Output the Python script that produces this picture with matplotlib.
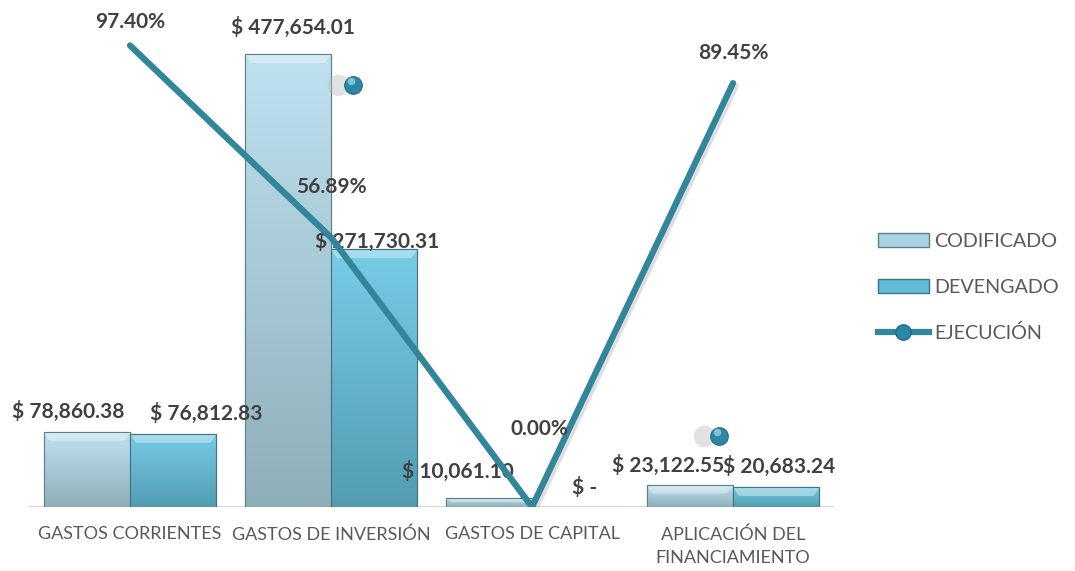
import matplotlib
matplotlib.use("Agg")
import matplotlib.pyplot as plt
import matplotlib.patheffects as pe
from matplotlib.patches import Patch
from matplotlib.lines import Line2D
from matplotlib.colors import LinearSegmentedColormap
import numpy as np

categorias = ["GASTOS CORRIENTES", "GASTOS DE INVERSIÓN", "GASTOS DE CAPITAL",
              "APLICACIÓN DEL\nFINANCIAMIENTO"]
codificado = [78860.38, 477654.01, 10061.10, 23122.55]
devengado = [76812.83, 271730.31, 0.0, 20683.24]
ejecucion = [0.9740, 0.5689, 0.0, 0.8945]
# stray marker dots in the original picture (category units, fraction)
punto_x = [1.11, 2.93]
punto_y = [0.89, 0.15]

cod_labels = ["$ 78,860.38", "$ 477,654.01", "$ 10,061.10", "$ 23,122.55"]
dev_labels = ["$ 76,812.83", "$ 271,730.31", "$ -", "$ 20,683.24"]
eje_labels = ["97.40%", "56.89%", "0.00%", "89.45%"]

# label offsets in points (dx, dy)
cod_off = [(-13, 15), (4, 19), (-22, 19), (-16, 14)]
dev_off = [(24, 15), (2, 6), (7, 14), (2, 15)]
eje_off = [(0, 17), (0, 36), (5, 56), (0, 22)]

plt.rcParams["font.family"] = ["Lato", "DejaVu Sans"]

fig = plt.figure(figsize=(10.75, 5.71), dpi=100)
ax = fig.add_axes([0.0274, 0.112, 0.748, 0.830])
ax2 = ax.twinx()

x = np.arange(len(categorias))
w = 0.43
b1 = ax.bar(x - w / 2, codificado, w, color="#a9d2e3", edgecolor="#5f7f8a", linewidth=0.8, zorder=2)
b2 = ax.bar(x + w / 2, devengado, w, color="#62bcd8", edgecolor="#3f7385", linewidth=0.8, zorder=2)

cmap1 = LinearSegmentedColormap.from_list("c1", ["#8eaeb9", "#bfe2f0"])
cmap2 = LinearSegmentedColormap.from_list("c2", ["#519cb2", "#78cce6"])
grad = np.linspace(0, 1, 256).reshape(-1, 1)
for bars, cm in [(b1, cmap1), (b2, cmap2)]:
    for r in bars:
        if r.get_height() <= 0:
            continue
        x0, y0 = r.get_x(), r.get_y()
        x1, y1 = x0 + r.get_width(), y0 + r.get_height()
        im = ax.imshow(grad, cmap=cm, aspect="auto", extent=[x0, x1, y0, y1],
                       origin="lower", zorder=2.1)
        im.set_clip_path(r)
        # bevel highlight on top
        hh = min(r.get_height() * 0.5, 9000)
        ax.fill([x0, x1, x1 - 0.03, x0 + 0.03], [y1, y1, y1 - hh, y1 - hh],
                color="white", alpha=0.35, lw=0, zorder=2.2)
        ax.add_patch(plt.Rectangle((x0, y0), r.get_width(), r.get_height(), fill=False,
                                   edgecolor=r.get_edgecolor(), lw=0.8, zorder=2.3))

ax.set_xlim(-0.5, 3.5)
ax.set_ylim(0, 500000)
ax2.set_ylim(0, 1)
ax.axhline(0, color="#d9d9d9", lw=1.5, zorder=1)

ax2.plot(x, ejecucion, color="#31869b", lw=4.5, solid_capstyle="round", zorder=3,
         path_effects=[pe.SimpleLineShadow(offset=(2, -2), shadow_color="gray", alpha=0.25),
                       pe.Normal()])
ax2.scatter(np.array(punto_x) - 0.075, punto_y, s=240, color="#b8b8b8", alpha=0.4, lw=0, zorder=3)
ax2.scatter(punto_x, punto_y, s=160, color="#2a88a6", edgecolor="#1f6b84", lw=0.8, zorder=4)
ax2.scatter(np.array(punto_x) - 0.008, np.array(punto_y) + 0.008, s=30, color="#7cc3d8",
            lw=0, zorder=5)

lab = dict(ha="center", va="center", fontsize=15, fontweight="bold", color="#404040",
           textcoords="offset points", zorder=6)
for i in range(len(categorias)):
    ax.annotate(cod_labels[i], (x[i] - w / 2, codificado[i]), xytext=cod_off[i], **lab)
    ax.annotate(dev_labels[i], (x[i] + w / 2, devengado[i]), xytext=dev_off[i], **lab)
    ax2.annotate(eje_labels[i], (x[i], ejecucion[i]), xytext=eje_off[i], **lab)

ax.set_xticks(x)
ax.set_xticklabels(categorias, fontsize=13, color="#595959", linespacing=1.55)
ax.tick_params(axis="x", length=0, pad=14)
ax.set_yticks([])
ax2.set_yticks([])
for a in (ax, ax2):
    for s in a.spines.values():
        s.set_visible(False)

handles = [Patch(facecolor="#a9d2e3", edgecolor="#5f7f8a"),
           Patch(facecolor="#62bcd8", edgecolor="#3f7385"),
           Line2D([], [], color="#31869b", lw=4.5, marker="o", markersize=11,
                  markerfacecolor="#2a88a6", markeredgecolor="#1f6b84")]
fig.legend(handles, ["CODIFICADO", "DEVENGADO", "EJECUCIÓN"], loc="center left",
           bbox_to_anchor=(0.80, 0.496), frameon=False, fontsize=14.2,
           labelcolor="#595959", handlelength=2.6, handleheight=0.7,
           labelspacing=1.45, handletextpad=0.25)

fig.savefig("out.png", dpi=100)
